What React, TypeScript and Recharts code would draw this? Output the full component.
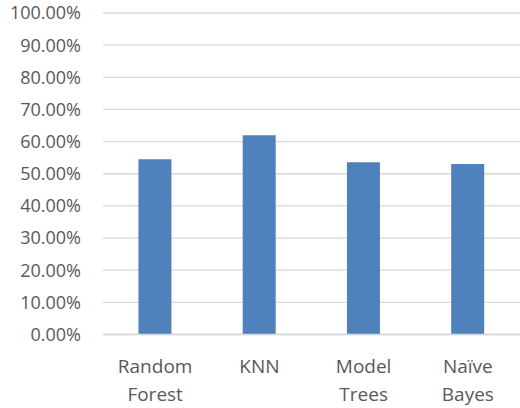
import { BarChart, Bar, XAxis, YAxis, CartesianGrid } from 'recharts';

const models = ['Random Forest', 'KNN', 'Model Trees', 'Naïve Bayes'];
const accuracy = [0.545, 0.62, 0.536, 0.53];
const yTicks = [0, 0.1, 0.2, 0.3, 0.4, 0.5, 0.6, 0.7, 0.8, 0.9, 1];

const data = models.map((name, i) => ({ name, accuracy: accuracy[i] }));

const FONT = '"Open Sans", sans-serif';
const TEXT = '#595959';

interface TickProps {
  x?: number;
  y?: number;
  payload?: { value: string };
}

function CategoryTick({ x, y, payload }: TickProps) {
  const words = (payload?.value ?? '').split(' ');
  return (
    <text x={x} y={(y ?? 0) + 38} textAnchor="middle" fill={TEXT} fontFamily={FONT} fontSize={19}>
      {words.map((w, i) => (
        <tspan key={i} x={x} dy={i === 0 ? 0 : 28}>
          {w}
        </tspan>
      ))}
    </text>
  );
}

export default function App() {
  return (
    <div style={{ position: 'absolute', left: 0, top: 0, background: '#fff' }}>
      <BarChart
        width={520}
        height={408}
        data={data}
        margin={{ top: 13, right: 0, left: 0, bottom: 0 }}
        barCategoryGap="34%"
      >
        <CartesianGrid vertical={false} stroke="#d9d9d9" strokeWidth={1.3} />
        <XAxis
          dataKey="name"
          height={73.5}
          axisLine={{ stroke: '#d9d9d9', strokeWidth: 1.3 }}
          tickLine={false}
          tickSize={0}
          tickMargin={0}
          interval={0}
          tick={<CategoryTick />}
        />
        <YAxis
          width={103}
          domain={[0, 1]}
          ticks={yTicks}
          interval={0}
          axisLine={false}
          tickLine={false}
          tickSize={0}
          tickMargin={22}
          tickFormatter={(v: number) => `${(v * 100).toFixed(2)}%`}
          tick={{ fill: TEXT, fontFamily: FONT, fontSize: 18 }}
        />
        <Bar dataKey="accuracy" fill="#4F81BD" isAnimationActive={false} />
      </BarChart>
    </div>
  );
}
